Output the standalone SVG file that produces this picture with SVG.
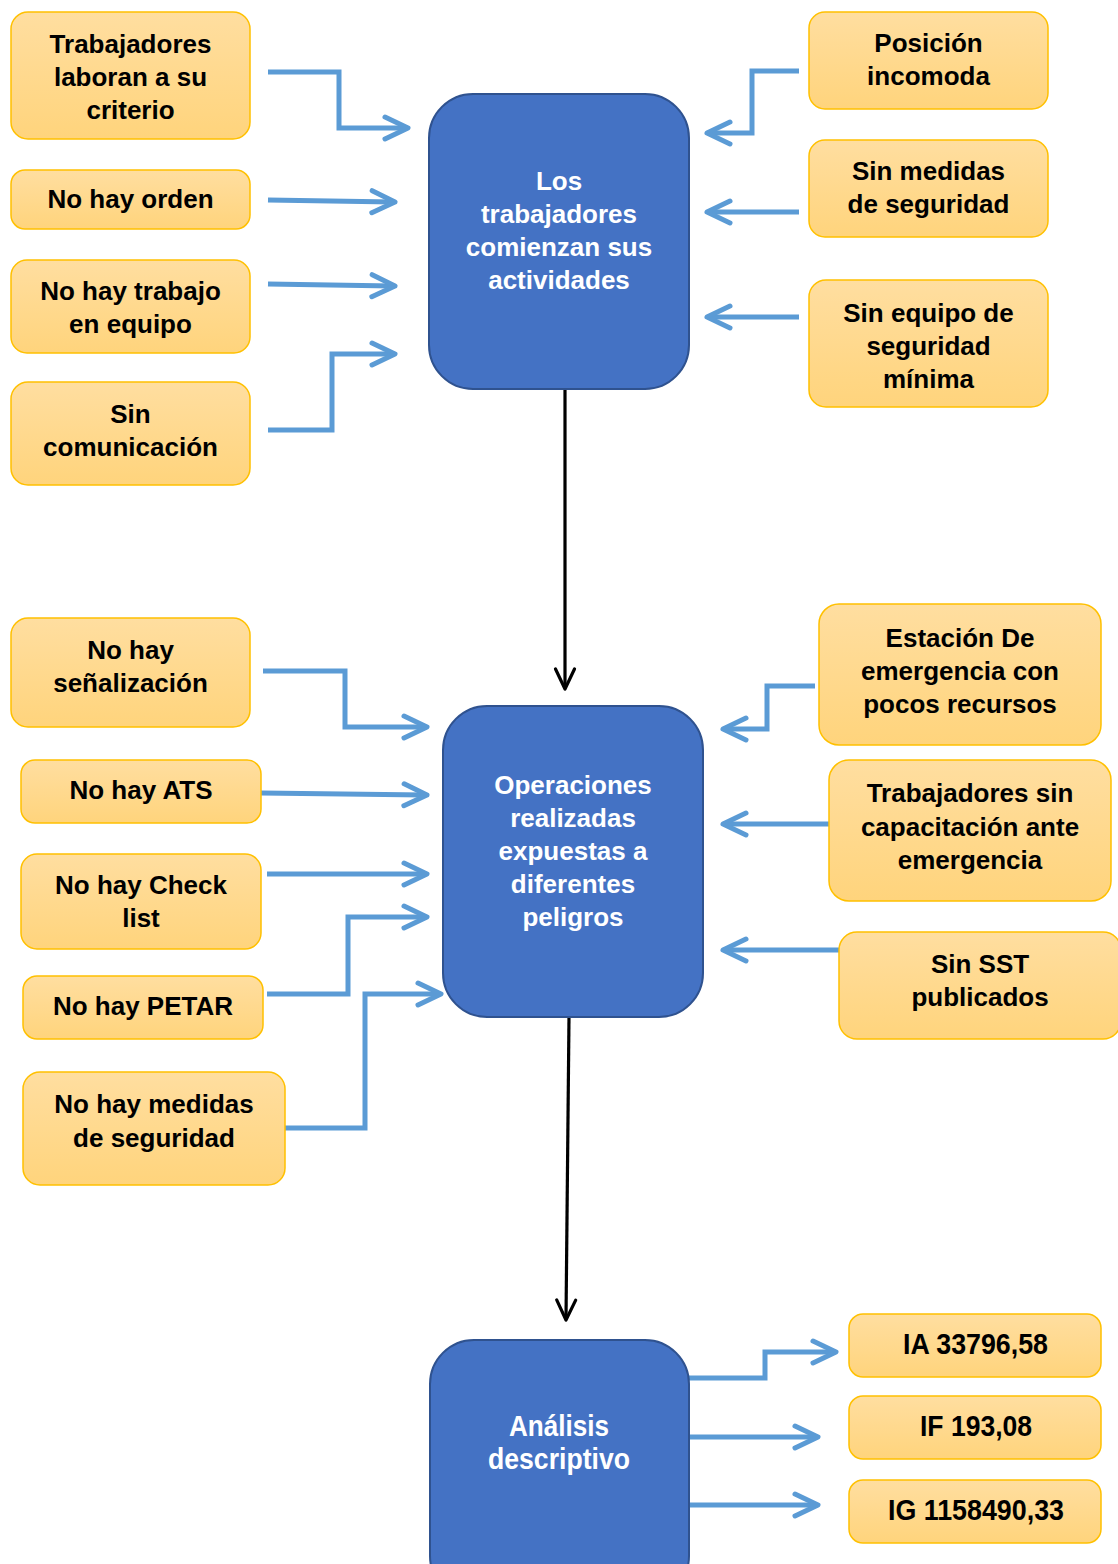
<svg xmlns="http://www.w3.org/2000/svg" width="1118" height="1564" viewBox="0 0 1118 1564">
  <defs>
    <linearGradient id="gold" x1="0" y1="0" x2="0" y2="1">
      <stop offset="0" stop-color="#FFDEA0"/>
      <stop offset="1" stop-color="#FFD47C"/>
    </linearGradient>
    <marker id="chev" markerUnits="userSpaceOnUse" markerWidth="40" markerHeight="40" refX="0" refY="0" viewBox="-30 -20 40 40" orient="auto" overflow="visible">
      <path d="M-21,-11 L2,0 L-21,11" fill="none" stroke="#5B9BD5" stroke-width="5" stroke-linecap="round" stroke-linejoin="round"/>
    </marker>
    <marker id="down" markerUnits="userSpaceOnUse" markerWidth="40" markerHeight="40" refX="0" refY="0" viewBox="-30 -20 40 40" orient="auto" overflow="visible">
      <path d="M-19,-9.5 L1,0 L-19,9.5" fill="none" stroke="#000" stroke-width="3.2" stroke-linecap="round" stroke-linejoin="round"/>
    </marker>
  </defs>
  <style>
    .cause { fill: url(#gold); stroke: #FFC000; stroke-width: 1.5; }
    .step { fill: #4472C4; stroke: #2F528F; stroke-width: 2; }
    text { font-family: "Liberation Sans", Arial, sans-serif; font-weight: bold; font-size: 26px; text-anchor: middle; }
    .dark { fill: #000; }
    .light { fill: #fff; }
    .tall { font-size: 29px; }
    .link { fill: none; stroke: #5B9BD5; stroke-width: 5; marker-end: url(#chev); }
    .flow { fill: none; stroke: #000; stroke-width: 3.2; marker-end: url(#down); }
  </style>

  <!-- connectors -->
  <g id="connectors">
    <path class="link" d="M268,72 H339 V128 H406"/>
    <path class="link" d="M268,200 L393,202"/>
    <path class="link" d="M268,284 L393,286"/>
    <path class="link" d="M268,430 H332 V354 H393"/>
    <path class="link" d="M799,71 H752 V133 H709"/>
    <path class="link" d="M799,212 H709"/>
    <path class="link" d="M799,317 H709"/>
    <path class="flow" d="M565,389 V688"/>

    <path class="link" d="M263,671 H345 V727 H425"/>
    <path class="link" d="M261,793 L425,795"/>
    <path class="link" d="M267,874 H425"/>
    <path class="link" d="M267,994 H348 V917 H425"/>
    <path class="link" d="M285,1128 H365 V994 H439"/>
    <path class="link" d="M815,686 H767 V729 H725"/>
    <path class="link" d="M829,824 H725"/>
    <path class="link" d="M839,950 H725"/>
    <path class="flow" d="M569,1017 L566,1319"/>

    <path class="link" d="M689,1378 H765 V1352 H834"/>
    <path class="link" d="M689,1437 H816"/>
    <path class="link" d="M689,1505 H816"/>
  </g>

  <!-- main process steps -->
  <g id="step-inicio">
    <rect class="step" x="429" y="94" width="260" height="295" rx="44"/>
    <text class="light" x="559" y="190">Los</text>
    <text class="light" x="559" y="223">trabajadores</text>
    <text class="light" x="559" y="256">comienzan sus</text>
    <text class="light" x="559" y="289">actividades</text>
  </g>
  <g id="step-operaciones">
    <rect class="step" x="443" y="706" width="260" height="311" rx="44"/>
    <text class="light" x="573" y="794">Operaciones</text>
    <text class="light" x="573" y="827">realizadas</text>
    <text class="light" x="573" y="860">expuestas a</text>
    <text class="light" x="573" y="893">diferentes</text>
    <text class="light" x="573" y="926">peligros</text>
  </g>
  <g id="step-analisis">
    <rect class="step" x="430" y="1340" width="259" height="260" rx="44"/>
    <text class="light tall" x="559" y="1436" textLength="100" lengthAdjust="spacingAndGlyphs">Análisis</text>
    <text class="light tall" x="559" y="1469" textLength="142" lengthAdjust="spacingAndGlyphs">descriptivo</text>
  </g>

  <!-- causes, first stage -->
  <g id="c-criterio">
    <rect class="cause" x="11" y="12" width="239" height="127" rx="17"/>
    <text class="dark" x="130.5" y="53">Trabajadores</text>
    <text class="dark" x="130.5" y="86">laboran a su</text>
    <text class="dark" x="130.5" y="119">criterio</text>
  </g>
  <g id="c-orden">
    <rect class="cause" x="11" y="170" width="239" height="59" rx="14"/>
    <text class="dark" x="130.5" y="208">No hay orden</text>
  </g>
  <g id="c-equipo">
    <rect class="cause" x="11" y="260" width="239" height="93" rx="16"/>
    <text class="dark" x="130.5" y="300">No hay trabajo</text>
    <text class="dark" x="130.5" y="333">en equipo</text>
  </g>
  <g id="c-comunicacion">
    <rect class="cause" x="11" y="382" width="239" height="103" rx="17"/>
    <text class="dark" x="130.5" y="423">Sin</text>
    <text class="dark" x="130.5" y="456">comunicación</text>
  </g>
  <g id="c-posicion">
    <rect class="cause" x="809" y="12" width="239" height="97" rx="16"/>
    <text class="dark" x="928.5" y="52">Posición</text>
    <text class="dark" x="928.5" y="85">incomoda</text>
  </g>
  <g id="c-medidas">
    <rect class="cause" x="809" y="140" width="239" height="97" rx="16"/>
    <text class="dark" x="928.5" y="180">Sin medidas</text>
    <text class="dark" x="928.5" y="213">de seguridad</text>
  </g>
  <g id="c-epp">
    <rect class="cause" x="809" y="280" width="239" height="127" rx="17"/>
    <text class="dark" x="928.5" y="322">Sin equipo de</text>
    <text class="dark" x="928.5" y="355">seguridad</text>
    <text class="dark" x="928.5" y="388">mínima</text>
  </g>

  <!-- causes, second stage -->
  <g id="c-senalizacion">
    <rect class="cause" x="11" y="618" width="239" height="109" rx="17"/>
    <text class="dark" x="130.5" y="659">No hay</text>
    <text class="dark" x="130.5" y="692">señalización</text>
  </g>
  <g id="c-ats">
    <rect class="cause" x="21" y="760" width="240" height="63" rx="14"/>
    <text class="dark" x="141" y="799">No hay ATS</text>
  </g>
  <g id="c-checklist">
    <rect class="cause" x="21" y="854" width="240" height="95" rx="16"/>
    <text class="dark" x="141" y="894">No hay Check</text>
    <text class="dark" x="141" y="927">list</text>
  </g>
  <g id="c-petar">
    <rect class="cause" x="23" y="976" width="240" height="63" rx="14"/>
    <text class="dark" x="143" y="1015">No hay PETAR</text>
  </g>
  <g id="c-medidas2">
    <rect class="cause" x="23" y="1072" width="262" height="113" rx="17"/>
    <text class="dark" x="154" y="1113">No hay medidas</text>
    <text class="dark" x="154" y="1147">de seguridad</text>
  </g>
  <g id="c-estacion">
    <rect class="cause" x="819" y="604" width="282" height="141" rx="20"/>
    <text class="dark" x="960" y="647">Estación De</text>
    <text class="dark" x="960" y="680">emergencia con</text>
    <text class="dark" x="960" y="713">pocos recursos</text>
  </g>
  <g id="c-capacitacion">
    <rect class="cause" x="829" y="760" width="282" height="141" rx="20"/>
    <text class="dark" x="970" y="802">Trabajadores sin</text>
    <text class="dark" x="970" y="836">capacitación ante</text>
    <text class="dark" x="970" y="869">emergencia</text>
  </g>
  <g id="c-sst">
    <rect class="cause" x="839" y="932" width="282" height="107" rx="18"/>
    <text class="dark" x="980" y="973">Sin SST</text>
    <text class="dark" x="980" y="1006">publicados</text>
  </g>

  <!-- resulting indices -->
  <g id="r-ia">
    <rect class="cause" x="849" y="1314" width="252" height="63" rx="14"/>
    <text class="dark tall" x="975.5" y="1354" textLength="145" lengthAdjust="spacingAndGlyphs">IA 33796,58</text>
  </g>
  <g id="r-if">
    <rect class="cause" x="849" y="1396" width="252" height="63" rx="14"/>
    <text class="dark tall" x="976" y="1436" textLength="112" lengthAdjust="spacingAndGlyphs">IF 193,08</text>
  </g>
  <g id="r-ig">
    <rect class="cause" x="849" y="1480" width="252" height="63" rx="14"/>
    <text class="dark tall" x="976" y="1520" textLength="176" lengthAdjust="spacingAndGlyphs">IG 1158490,33</text>
  </g>
</svg>
